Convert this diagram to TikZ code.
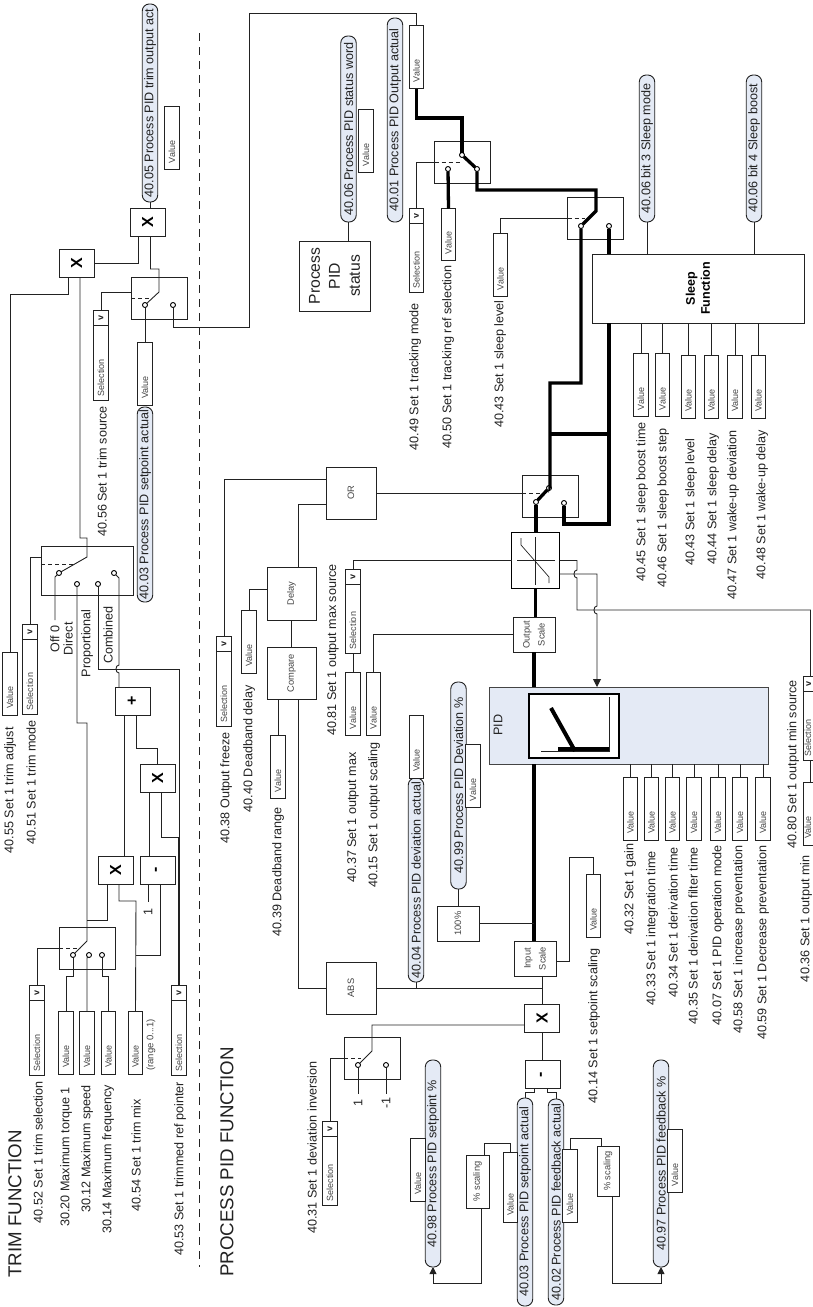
\documentclass[tikz,border=0pt]{standalone}
\usepackage{fontspec}
\setmainfont{Liberation Sans}
\usepackage{xcolor}
\usetikzlibrary{arrows.meta}
\definecolor{ink}{HTML}{222222}
\definecolor{inkdim}{HTML}{444444}
\definecolor{pillblue}{HTML}{E4EAF5}
\begin{document}
\begin{tikzpicture}[x=1pt,y=-1pt,font=\fontsize{12.6}{14}\selectfont,
     wire/.style={draw=ink,line width=.9pt},
     thk/.style={draw=black,line width=3.3pt},
     dsh/.style={draw=ink,line width=.9pt,dash pattern=on 4pt off 3pt},
     lbl/.style={rotate=90,anchor=east,inner sep=0,text=ink},
     pill/.style={draw=ink,line width=.9pt,fill=pillblue,rotate=90,rounded corners=7pt,minimum height=15.5,inner sep=0,outer sep=0,text=ink},
     val/.style={draw=ink,line width=.9pt,fill=white,rotate=90,minimum height=14.5,text width=50,inner xsep=6.5,inner ysep=0,outer sep=0,align=left,text=inkdim,font=\fontsize{9}{10}\selectfont},
     sel/.style={val,text width=82,inner xsep=4},
     selv/.style={draw=ink,line width=.9pt,fill=white,rotate=90,minimum width=15,minimum height=14.5,inner sep=0,outer sep=0,text=ink,font=\fontsize{9}{10}\bfseries\selectfont},
     edgetext/.style={text height=6.5pt,text depth=5.5pt},
     mulbox/.style={draw=ink,line width=.9pt,sharp corners,fill=white,rotate=90,minimum width=28,minimum height=35,inner sep=0,outer sep=0,font=\fontsize{16}{18}\bfseries\selectfont},
     blk/.style={draw=ink,line width=.9pt,fill=white,rotate=90,inner sep=0,outer sep=0,align=center,text=inkdim,font=\fontsize{9.3}{15}\selectfont},
     swbox/.style={draw=ink,line width=.9pt,minimum width=56,minimum height=42,inner sep=0,outer sep=0},
     cnt/.style={circle,draw=black,line width=.9pt,fill=white,minimum size=5,inner sep=0,outer sep=0}]
  \path[use as bounding box,fill=white] (0,0) rectangle (813,1307);
  \clip (0,0) rectangle (813,1307);
  % titles and separator
  \node[lbl,font=\fontsize{18.7}{20}\selectfont](trimhead) at (15,1130){TRIM FUNCTION};
  \node[lbl,font=\fontsize{18.7}{20}\selectfont](pidhead) at (227,1047){PROCESS PID FUNCTION};
  \coordinate(septop) at (199.5,33); \coordinate(sepbot) at (199.5,1267);
  \draw[draw=ink,line width=.9pt,dash pattern=on 8pt off 6pt](septop)--(sepbot);
  % bubbles
  \node[pill,minimum width=198](p4005) at (150,103){40.05 Process PID trim output act};
  \node[pill,minimum width=195](p4003a) at (145,504.5){40.03 Process PID setpoint actual};
  \node[pill,minimum width=186](p4006) at (348.5,129){40.06 Process PID status word};
  \node[pill,minimum width=204](p4001) at (395,120){40.01 Process PID Output actual};
  \node[pill,minimum width=147](p4006a) at (647,148.5){40.06 bit 3 Sleep mode};
  \node[pill,minimum width=147](p4006b) at (754,148.5){40.06 bit 4 Sleep boost};
  \node[pill,minimum width=204](p4004) at (416,880){40.04 Process PID deviation actual};
  \node[pill,minimum width=207](p4099) at (458.5,785.5){40.99 Process PID Deviation \%};
  \node[pill,minimum width=207](p4098) at (433,1163.5){40.98 Process PID setpoint \%};
  \node[pill,minimum width=208](p4003b) at (525,1202){40.03 Process PID setpoint actual};
  \node[pill,minimum width=206](p4002b) at (556,1202){40.02 Process PID feedback actual};
  \node[pill,minimum width=207](p4097) at (661,1163.5){40.97 Process PID feedback \%};
  % value and selection boxes
  \foreach \n/\x/\y in {v4005/172/138,v4003a/145/373.5,v4055/10/683.5,v4040/249/641.5,v4039/278/767,
      v3020/66/1042.5,v3012/87/1042.5,v3014/108.5/1042.5,v4054/135.5/1042.5,v4006/366/141,v4001/416.5/57,
      v4043a/500.5/265,v4037/353/704,v4015/373.5/704,v4004/416.5/746.5,v4099/473/776,v4098/418/1169.5,
      v4097/675/1161,v4014/593.5/905.5}{\node[val](\n) at (\x,\y){Value};}
  \foreach \n/\x in {v4032/630.5,v4033/651.5,v4034/672.5,v4035/694,v4007/718,v4058/740,v4059/763}{\node[val](\n) at (\x,808.5){Value};}
  \foreach \n/\x/\y in {v4045/641/385,v4046/662.5/385,v4043b/688.5/386.5,v4044/711.5/386.5,v4047/735/386.5,v4048/758.5/386.5}{\node[val](\n) at (\x,\y){Value};}
  \node[val,edgetext](v4036) at (810.5,813.5){Value};
  \node[val,text width=39](v4050) at (448.5,234.5){Value};
  \node[val,text width=57](v4003b) at (510.5,1187){Value};
  \node[val,text width=60](v4002b) at (570,1185.5){Value};
  \foreach \n/\x/\y in {s4056/101/355.5,s4051/30/669,s4038/224/681.5,s4052/37/1030.5,s4053/179/1030.5}{
    \node[sel](\n) at (\x,\y){Selection}; \node[selv,anchor=east](\n v) at (\n.east){v};}
  \foreach \n/\x/\y in {s4049/416.5/250.5,s4081/353/611,s4031/330/1163}{
    \node[sel,text width=76](\n) at (\x,\y){Selection}; \node[selv,anchor=east](\n v) at (\n.east){v};}
  \node[sel,text width=76,edgetext](s4080) at (810.5,718.5){Selection};
  \node[selv,edgetext,anchor=east](s4080v) at (s4080.east){v};
  % blocks
  \node[mulbox](x1) at (147.5,222){X};     \node[mulbox](x2) at (76.5,263){X};
  \node[mulbox](plus) at (132.5,701){+};   \node[mulbox](x3) at (157.5,778.5){X};
  \node[mulbox](x4) at (115.5,870){X};     \node[mulbox](m1) at (157.5,870){-};
  \node[mulbox](x5) at (542,1018){X};      \node[mulbox](m2) at (542.5,1074.5){-};
  \node[swbox](sw1) at (159,298.5){};      \node[swbox,minimum width=92,minimum height=49](sw2) at (87,570.5){};
  \node[swbox](sw3) at (87,948){};         \node[swbox](sw4) at (462.5,162.5){};
  \node[swbox](sw5) at (595.5,218){};      \node[swbox](sw6) at (550,496){};
  \node[swbox](sw7) at (372,1058){};
  \node[blk,minimum width=53,minimum height=49](dly) at (291.5,593.5){Delay};
  \node[blk,minimum width=52,minimum height=49](cmp) at (291.5,673){Compare};
  \node[blk,minimum width=52,minimum height=50](orb) at (351,493){OR};
  \node[blk,minimum width=52,minimum height=50](abs) at (351,988){ABS};
  \node[blk,minimum width=35,minimum height=42](os) at (534,634.5){Output\\Scale};
  \node[blk,minimum width=35,minimum height=42](is) at (535,958.5){Input\\Scale};
  \node[blk,minimum width=35,minimum height=42](h100) at (458,923.5){100\%};
  \node[blk,minimum width=53,minimum height=23](sc1) at (477.5,1181.5){\% scaling};
  \node[blk,minimum width=50,minimum height=22](sc2) at (608,1171){\% scaling};
  \node[blk,minimum width=70,minimum height=71,text=ink,font=\fontsize{15.7}{20}\selectfont](st) at (334.5,276){Process\\PID\\status};
  \node[blk,minimum width=69,minimum height=212,text=black,font=\fontsize{12.5}{15}\bfseries\selectfont](sleep) at (698,288.5){Sleep\\Function};
  \node[draw=black,line width=1.8pt,minimum width=48,minimum height=56,inner sep=0,outer sep=0](lim) at (535.5,560.5){};
  \node[draw=inkdim,line width=.9pt,fill=pillblue,minimum width=279,minimum height=77,inner sep=0,outer sep=0](pid) at (628.5,725.5){};
  \node[lbl,anchor=center](pidname) at (498,725){PID};
  \node[draw=black,line width=1.6pt,fill=white,minimum width=90,minimum height=64,inner sep=0,outer sep=0](plot) at (574,726){};
  % switch contacts
  \foreach \n/\x/\y in {c11/145/305,c12/173/305,c21/59/573,c22/77/584,c23/98/584,c24/114/573,c31/73/955,c32/89/955,c33/102/955,
      c41/462/155,c42/448/169,c43/477/169,c51/581/226,c52/609/226,c61/549/488,c62/536/502,c63/564/503,c71/358/1065,c72/386/1065}{
    \node[cnt](\n) at (\x,\y){};}
  % inside of limiter and plot
  \draw[wire,line width=.6pt](517,560.5)--(555,560.5) (535.5,537)--(535.5,585);
  \draw[wire,line width=.7pt](521,538)--(521,545)--(549,577)--(549,583);
  \draw[wire](609,697)--(609,751)--(541,751);
  \draw[thk](558,749)--(609,749);
  \draw[draw=black,line width=4pt](551,708)--(575,751);
  % trim connectors
  \coordinate(offend) at (55,620); \coordinate(oneend) at (148,902); \coordinate(j3) at (179,837);
  \draw[wire](p4005.west)--(p4005.west|-x1.east);
  \draw[wire]([xshift=-9]x1.west)|-(x2.south);
  \draw[wire]([xshift=3]x1.west)|-(159,269)--(159,292)--(c11);
  \draw[wire](s4056v.east)|-([yshift=6]sw1.west);
  \draw[dsh](sw1.west)--(149,298.5);
  \draw[wire](v4003a.east)--(c11);
  \draw[wire](c12)|-(249,327)--(249,13)-|(v4001.east);
  \draw[wire]([xshift=-8.5]x2.west)--(68,294)-|(v4055.east);
  \draw[wire]([xshift=3.5]x2.west)--(80,538)--(87,538)--(87,557)--(c21);
  \draw[wire](s4051v.east)|-([yshift=13.5]sw2.west);
  \draw[dsh]([yshift=6.5]sw2.west)--++(33,0);
  \draw[wire](c21)--(55,577)--(offend);
  \draw[wire](c22)--(77,723)--(87,723)--(87,941)--(c31);
  \draw[wire](c23)|-(179,669)--(j3);
  \draw[wire,line width=1.3pt](j3)--(s4053v.east);
  \draw[wire](c24)--(119,578)--(119,665) .. controls (115,665) and (115,673) .. (119,673)--([xshift=-13.5]plus.east);
  \draw[wire]([xshift=-8.5]plus.west)--([xshift=8.5]x4.east);
  \draw[wire]([xshift=3.5]plus.west)--(136,748)-|(x3.east);
  \draw[wire]([xshift=-8.5]x3.west)--([xshift=-8.5]m1.east);
  \draw[wire]([xshift=3.5]x3.west)|-(j3);
  \draw[wire]([xshift=-8.5]x4.west)|-(87,920);
  \draw[wire]([xshift=3.5]x4.west)|-(136,901)--(v4054.east);
  \draw[wire]([xshift=2.5]m1.west)|-(136,955);
  \draw[wire]([xshift=-9.5]m1.west)--(oneend);
  \draw[wire](s4052v.east)|-(sw3.west);
  \draw[dsh](sw3.west)--(80,948);
  \draw[wire](c31)--(73,976)-|(v3020.east);
  \draw[wire](c32)--(87,958)--(v3012.east);
  \draw[wire](c33)|-(108.5,976)--(v3014.east);
  % pid connectors
  \coordinate(j1) at (550,434); \coordinate(j2) at (542,988); \coordinate(hop2) at (597,614);
  \coordinate(inv1) at (358,1094); \coordinate(inv2) at (386,1094);
  \draw[wire](p4006.west)--(p4006.west|-st.east);
  \draw[thk](v4001.west)|-(462,118)--(c41);
  \draw[thk](c41)--(c43);
  \draw[thk](c42)--(v4050.east);
  \draw[thk](c43)|-(596,190)--(596,211)--(c51);
  \draw[thk](c52)--(c52|-sleep.east);
  \draw[thk](c51)--(581,383)--(550,383)--(550,486)--(c61);
  \draw[thk](c61)--(c62);
  \draw[thk](j1)--(609,434);
  \draw[thk]([xshift=-89]sleep.west)--(609,524)-|(c63);
  \draw[thk](c62)--(c62|-lim.north);
  \draw[thk](lim.south)--(lim.south|-os.east);
  \draw[thk](os.west)--(os.west|-pid.north);
  \draw[thk](os.west|-pid.south)--(os.west|-is.east);
  \draw[wire](orb.south)--(sw6.west|-orb.south);
  \draw[dsh](sw6.west|-orb.south)--(541,493);
  \draw[wire](s4049v.east)|-(sw4.west);
  \draw[dsh](sw4.west)--(462,162.5);
  \draw[wire](v4043a.east)|-(sw5.west);
  \draw[dsh](sw5.west)--(585,218);
  \draw[wire](s4081v.east)|-(lim.west);
  \draw[wire](lim.east)-|(577,570) .. controls (573,570) and (573,578) .. (577,578)|-(810.5,610)--(s4080v.east);
  \draw[wire,-{Triangle[length=8pt,width=8pt]}]([yshift=-13.5]lim.east)-|(597,606) .. controls (593,606) and (593,614) .. (hop2)--(hop2|-pid.north);
  \draw[wire](os.north)-|(v4015.east);
  \draw[wire](s4081.west)--(v4037.east);
  \draw[wire]([yshift=14]orb.north)-|(s4038v.east);
  \draw[wire]([yshift=-11]orb.north)-|([xshift=6.5]dly.east);
  \draw[wire](v4040.east)|-([yshift=4.5]dly.north);
  \draw[wire](dly.west)--(cmp.east);
  \draw[wire](v4039.east)--(v4039.east|-cmp.west);
  \draw[wire]([xshift=6.5]cmp.west)|-(abs.north);
  \draw[wire](abs.south)--(j2);
  \draw[wire](x5.east)--(x5.east|-is.west);
  \draw[wire](p4004.west)--(p4004.west|-abs.south);
  \draw[wire](p4099.west)--(p4099.west|-h100.east);
  \draw[wire](h100.south)--(os.west|-h100.south);
  \draw[wire]([yshift=-2.5]is.south)-|(569,857)-|(v4014.east);
  \draw[wire]([yshift=-7]x5.north)-|(372,1051)--(c71);
  \draw[wire](c71)--(inv1);
  \draw[wire](c72)--(inv2);
  \draw[wire](s4031v.east)|-(sw7.west);
  \draw[dsh](sw7.west)--(361,1058);
  \draw[wire](x5.west)--(x5.west|-m2.east);
  \draw[wire]([xshift=-8.5]m2.west)--(534,1092)-|(p4003b.east);
  \draw[wire]([xshift=4.5]m2.west)--(547,1092)-|(p4002b.east);
  \draw[wire](v4003b.east)--(510.5,1143)-|([xshift=6.5]sc1.east);
  \draw[wire,-{Triangle[length=7pt,width=7pt]}]([xshift=3.5]sc1.west)|-(433,1283)--(p4098.west);
  \draw[wire](v4002b.east)--(570,1138)-|([xshift=-7]sc2.east);
  \draw[wire,-{Triangle[length=7pt,width=7pt]}]([xshift=4]sc2.west)|-(661,1283)--(p4097.west);
  \foreach \n in {v4032,v4033,v4034,v4035,v4007,v4058,v4059}{\draw[wire](\n.east)--(\n.east|-pid.south);}
  \foreach \n in {v4045,v4046,v4043b,v4044,v4047,v4048}{\draw[wire](\n.east)--(\n.east|-sleep.west);}
  \foreach \n in {p4006a,p4006b}{\draw[wire](\n.west)--(\n.west|-sleep.east);}
  \draw[wire](s4080.west)--(v4036.east);
  % parameter labels
  \foreach \n/\x/\y/\t in {l4052/38/1081/40.52 Set 1 trim selection,l3020/66/1087/30.20 Maximum torque 1,
      l3012/87/1085/30.12 Maximum speed,l3014/108/1085/30.14 Maximum frequency,l4054/136/1099/40.54 Set 1 trim mix,
      l4053/180/1082/40.53 Set 1 trimmed ref pointer,l4039/278/807/40.39 Deadband range,l4055/10/727/40.55 Set 1 trim adjust,
      l4051/31/720/40.51 Set 1 trim mode,l4056/102/406/40.56 Set 1 trim source,l4038/226/732/40.38 Output freeze,
      l4040/249/685/40.40 Deadband delay,l4049/415/303/40.49 Set 1 tracking mode,l4050/448/265/40.50 Set 1 tracking ref selection,
      l4043a/500/300/40.43 Set 1 sleep level,l4081/333/564/40.81 Set 1 output max source,l4037/353/752/40.37 Set 1 output max,
      l4015/374/742/40.15 Set 1 output scaling,l4031/312/1061/40.31 Set 1 deviation inversion,l4014/594/948/40.14 Set 1 setpoint scaling,
      l4032/630/843/40.32 Set 1 gain,l4033/652/851/40.33 Set 1 integration time,l4034/673/847/40.34 Set 1 derivation time,
      l4035/693/847/40.35 Set 1 derivation filter time,l4007/718/845/40.07 Set 1 PID operation mode,
      l4058/739/845/40.58 Set 1 increase preventation,l4059/763/845/40.59 Set 1 Decrease preventation,
      l4036/806/855/40.36 Set 1 output min,l4080/793/680/40.80 Set 1 output min source,l4045/642/422/40.45 Set 1 sleep boost time,
      l4046/663/428/40.46 Set 1 sleep boost step,l4043b/691/438/40.43 Set 1 sleep level,l4044/713/433/40.44 Set 1 sleep delay,
      l4047/733/430/40.47 Set 1 wake-up deviation,l4048/762/430/40.48 Set 1 wake-up delay,
      loff/55/625/Off 0,ldir/68/622/Direct,lpro/87/609/Proportional,lcom/108/606/Combined}{
    \node[lbl](\n) at (\x,\y){\t};}
  \node[lbl,anchor=center,text=inkdim,font=\fontsize{9.5}{10}\selectfont](lrange) at (151,1045){(range 0...1)};
  \node[lbl,anchor=center](lone) at (148,912){1};
  \node[lbl,anchor=center](linv1) at (358,1103){1};
  \node[lbl,anchor=center](linv2) at (386,1103){-1};
\end{tikzpicture}
\end{document}
